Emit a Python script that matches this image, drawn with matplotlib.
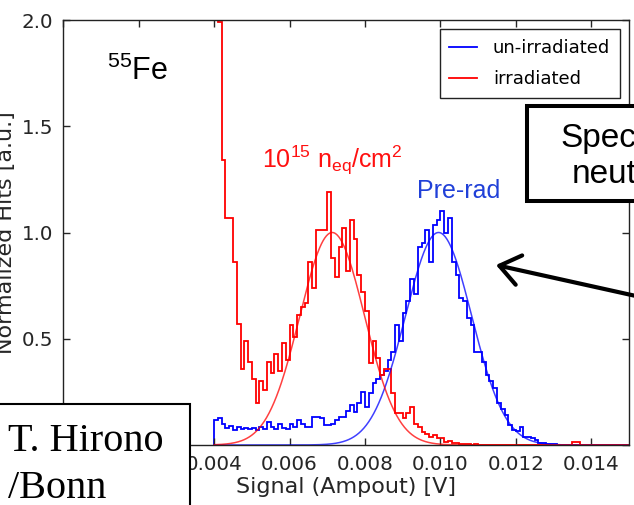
import numpy as np
import matplotlib
matplotlib.use('Agg')
import matplotlib.pyplot as plt
from matplotlib.patches import Rectangle

plt.rcParams['mathtext.fontset'] = 'custom'
plt.rcParams['mathtext.rm'] = 'Liberation Sans'
plt.rcParams['mathtext.it'] = 'Liberation Sans:italic'

# histogram bins (signal in V), 0.1 mV wide
bin_lo = 0.0040
bin_w = 0.0001
n_bins = 110

# irradiated: noise pedestal below 4.1 mV is off scale
irr_pedestal = 5.0
irradiated = [1.99, 1.34, 1.07, 1.07, 0.86, 0.57, 0.36, 0.49, 0.39,
              0.31, 0.20, 0.30, 0.26, 0.39, 0.34, 0.43, 0.35, 0.48, 0.40,
              0.565, 0.51, 0.61, 0.65, 0.67, 0.86, 0.74, 1.01, 1.01, 1.01,
              1.19, 0.88, 0.79, 0.93, 1.02, 0.82, 1.06, 0.97, 0.80, 0.72,
              0.63, 0.385, 0.49, 0.41, 0.33, 0.36, 0.36, 0.245, 0.15, 0.15,
              0.127, 0.15, 0.18, 0.10, 0.086, 0.063, 0.05, 0.04, 0.045, 0.033,
              0.033, 0.015, 0.02, 0.01, 0.01, 0.005, 0.005, 0.003, 0.0, 0.003,
              0.0, 0.0, 0.0, 0.0, 0.0, 0.0, 0.0, 0.0, 0.0, 0.0,
              0.0, 0.0, 0.0, 0.0, 0.0, 0.0, 0.0, 0.0, 0.0, 0.0,
              0.0, 0.0, 0.0, 0.0, 0.0, 0.015, 0.015, 0.0, 0.0, 0.0,
              0.0, 0.0, 0.0, 0.0, 0.0, 0.0, 0.0, 0.0, 0.0, 0.0]

un_irradiated = [0.12, 0.125, 0.10, 0.08, 0.09, 0.07, 0.085, 0.075, 0.08, 0.075,
                 0.08, 0.07, 0.085, 0.075, 0.11, 0.085, 0.075, 0.10, 0.08, 0.075,
                 0.10, 0.085, 0.12, 0.10, 0.085, 0.085, 0.13, 0.13, 0.125, 0.094,
                 0.094, 0.10, 0.12, 0.13, 0.13, 0.16, 0.19, 0.157, 0.20, 0.25,
                 0.18, 0.245, 0.29, 0.31, 0.33, 0.35, 0.40, 0.44, 0.565, 0.49,
                 0.62, 0.68, 0.78, 0.71, 0.93, 0.95, 1.01, 0.86, 1.035, 1.06,
                 1.10, 1.00, 1.07, 0.86, 0.80, 0.69, 0.68, 0.60, 0.565, 0.44,
                 0.44, 0.39, 0.33, 0.30, 0.27, 0.20, 0.17, 0.14, 0.094, 0.07,
                 0.065, 0.086, 0.04, 0.04, 0.032, 0.024, 0.011, 0.011, 0.007, 0.004,
                 0.003, 0.002, 0.001, 0.0, 0.0, 0.0, 0.0, 0.0, 0.0, 0.0,
                 0.0, 0.0, 0.0, 0.0, 0.0, 0.0, 0.0, 0.0, 0.0, 0.0]

# gaussian fit parameters (amplitude, mean [V], sigma [V])
fit_irr = (1.0, 0.00713, 0.00086)
fit_pre = (1.0, 0.00995, 0.00088)

edges = bin_lo + bin_w * np.arange(n_bins + 1)
edges_irr = np.r_[0.0, edges[1:]]
vals_irr = [irr_pedestal] + irradiated
xf = np.linspace(0.004, 0.015, 500)


def gauss(x, p):
    return p[0] * np.exp(-0.5 * ((x - p[1]) / p[2]) ** 2)


W, H = 634, 505
fig = plt.figure(figsize=(W / 100, H / 100), dpi=100)
ax = fig.add_axes([63.3 / W, 60 / H, 565.7 / W, 425 / H])

ax.stairs(un_irradiated, edges, color='b', lw=1.3, label='un-irradiated')
ax.stairs(vals_irr, edges_irr, color='r', lw=1.3, label='irradiated')
ax.plot(xf, gauss(xf, fit_pre), color='b', lw=1.1, alpha=0.75)
ax.plot(xf, gauss(xf, fit_irr), color='r', lw=1.1, alpha=0.75)

ax.set_xlim(0, 0.015)
ax.set_ylim(0, 2.0)
xt = np.arange(0, 0.0151, 0.002)
ax.set_xticks(xt)
# the two lowest labels sit under the name box
ax.set_xticklabels(['' if v < 0.003 else '%.3f' % v for v in xt])
ax.set_yticks([0.0, 0.5, 1.0, 1.5, 2.0])
ax.set_yticklabels(['', '0.5', '1.0', '1.5', '2.0'])
ax.tick_params(direction='in', top=True, right=True, length=5, width=1,
               labelsize=14.3, pad=7, colors='#262626')
for s in ax.spines.values():
    s.set_linewidth(1)
    s.set_color('#222222')

ax.set_ylabel('Normalized Hits [a.u.]', fontsize=16, color='#262626')
ax.yaxis.set_label_coords(-0.0836, 0.5)
ax.set_xlabel('Signal (Ampout) [V]', fontsize=16, color='#262626')
ax.xaxis.set_label_coords(0.5, -0.076)

leg = ax.legend(loc='upper right', bbox_to_anchor=((620 - 63.3) / 565.7, (445 - 29) / 425),
                borderaxespad=0, fontsize=13, handlelength=1.5, handletextpad=0.9,
                labelspacing=0.72, borderpad=0.55, fancybox=False, framealpha=1)
leg.get_frame().set_edgecolor('#222222')
leg.get_frame().set_linewidth(1)


def fx(x):
    return x / W


def fy(y):
    return 1 - y / H


# annotations on the slide
fig.text(fx(107), fy(80), r'$\mathrm{^{55}}$Fe', fontsize=22, family='Liberation Sans',
         va='baseline', color='k')
fig.text(fx(262), fy(168), r'$\mathrm{10^{15}\ n_{eq}/cm^{2}}$', fontsize=18,
         va='baseline', color='#ff1010')
fig.text(fx(417), fy(198), 'Pre-rad', fontsize=18, family='Liberation Sans',
         va='baseline', color='#2040d8')

fig.add_artist(Rectangle((fx(-5), fy(510)), 195 / W, 106 / H, transform=fig.transFigure,
                         facecolor='white', edgecolor='k', lw=1.5, zorder=5))
fig.text(fx(8), fy(451), 'T. Hirono', fontsize=29, family='Liberation Serif',
         va='baseline', color='k', zorder=6)
fig.text(fx(8), fy(498), '/Bonn', fontsize=29, family='Liberation Serif',
         va='baseline', color='k', zorder=6)

fig.add_artist(Rectangle((fx(526.5), fy(201)), 120 / W, 94.5 / H, transform=fig.transFigure,
                         facecolor='white', edgecolor='k', lw=2.9, zorder=5))
fig.text(fx(560), fy(147), 'Spectra', fontsize=24, family='Liberation Sans',
         va='baseline', color='k', zorder=6)
fig.text(fx(571.5), fy(183), 'neutron', fontsize=24, family='Liberation Sans',
         va='baseline', color='k', zorder=6)

arr = ax.annotate('', xy=(496, H - 265), xytext=(645, H - 298), xycoords='figure pixels',
                  textcoords='figure pixels', annotation_clip=False,
                  arrowprops=dict(arrowstyle='->,head_length=0.6,head_width=0.45',
                                  lw=3, color='k', mutation_scale=24,
                                  shrinkA=0, shrinkB=0))
arr.set_zorder(6)

fig.savefig('out.png', dpi=100)
